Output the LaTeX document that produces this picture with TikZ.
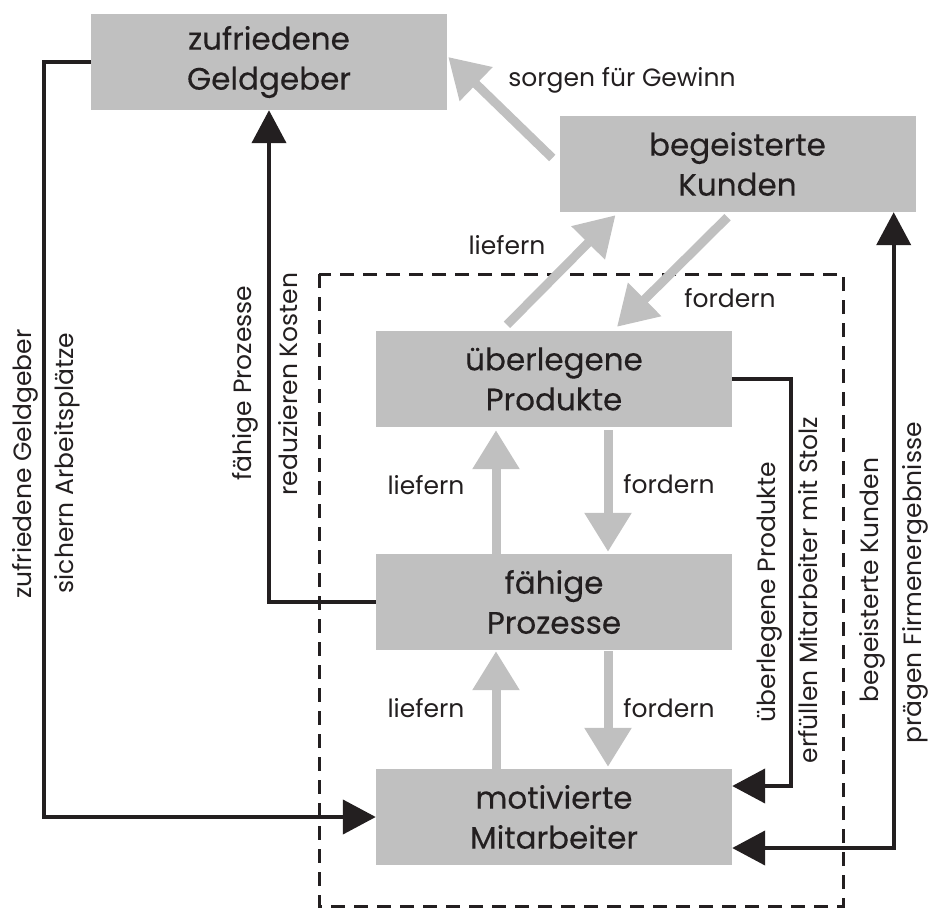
\documentclass[tikz,border=0pt]{standalone}
\usepackage{fontspec}
\setmainfont{Poppins}
\newfontfamily\boxfont[FakeBold=0.3]{Poppins}
\usetikzlibrary{arrows.meta}
\definecolor{ink}{HTML}{231F20}
\definecolor{boxgray}{HTML}{C0C0C0}
\begin{document}
\begin{tikzpicture}[x=1pt,y=-1pt,
  box/.style={fill=boxgray, minimum width=356pt, minimum height=96pt, inner sep=0pt,
    align=center, text=ink, font=\boxfont\fontsize{31}{40}\selectfont},
  lbl/.style={text=ink, inner sep=0pt, font=\fontsize{25}{30}\selectfont},
  blk/.style={draw=ink, line width=4.3pt},
  blktip/.style={-{Triangle[length=33pt,width=34pt]}},
  flow/.style={draw=boxgray, line width=9pt, -{Triangle[length=39pt,width=45pt]}},
  frame/.style={draw=ink, line width=3pt, dash pattern=on 14pt off 9pt}]
\useasboundingbox (0,0) rectangle (930,908);

% system boundary
\draw[frame] (319,274) rectangle (843,906);

% boxes
\node[box] (geld)   at (269,62)  {zufriedene\\Geldgeber};
\node[box] (kund)   at (737.5,164) {begeisterte\\Kunden};
\node[box] (prod)   at (554,379) {überlegene\\Produkte};
\node[box] (proz)   at (554,602) {fähige\\Prozesse};
\node[box] (mitarb) at (554,817) {motivierte\\Mitarbeiter};

% inner grey flows
\draw[flow] ([xshift=-7pt,yshift=6pt]kund.west) -- ([xshift=1pt,yshift=5pt]geld.east);
\draw[flow] ([xshift=-47pt,yshift=6pt]prod.north) -- ([xshift=-122pt,yshift=-3pt]kund.south);
\draw[flow] ([xshift=-10pt,yshift=-5pt]kund.south) -- ([xshift=63pt,yshift=4pt]prod.north);
\draw[flow] ([xshift=-58pt]proz.north) -- ([xshift=-58pt,yshift=-3pt]prod.south);
\draw[flow] ([xshift=54pt,yshift=-3pt]prod.south) -- ([xshift=54pt,yshift=2pt]proz.north);
\draw[flow] ([xshift=-58pt]mitarb.north) -- ([xshift=-58pt,yshift=-1pt]proz.south);
\draw[flow] ([xshift=54pt,yshift=-1pt]proz.south) -- ([xshift=54pt,yshift=2pt]mitarb.north);

% outer black loops
\draw[blk,blktip] (geld.west) -- ++(-47,0) |- (mitarb.west);
\draw[blk,blktip] (proz.west) -| (geld.south);
\draw[blk,blktip] (prod.east) -- ++(59,0) |- ([yshift=31pt]mitarb.east);
\draw[blk,{Triangle[length=33pt,width=34pt]}-{Triangle[length=33pt,width=34pt]}]
  ([yshift=-31pt]mitarb.east) -| ([xshift=-22pt]kund.south east);

% labels
\node[lbl] (lGew)  at (622,80)  {sorgen für Gewinn};
\node[lbl] (lLi1)  at (507,245) {liefern};
\node[lbl] (lFo1)  at (730,298) {fordern};
\node[lbl] (lLi2)  at (426,485) {liefern};
\node[lbl] (lFo2)  at (669,484) {fordern};
\node[lbl] (lLi3)  at (426,708) {liefern};
\node[lbl] (lFo3)  at (669,708) {fordern};
\node[lbl,rotate=90] (lA1) at (25,464)  {zufriedene Geldgeber};
\node[lbl,rotate=90] (lA2) at (67,463)  {sichern Arbeitsplätze};
\node[lbl,rotate=90] (lB1) at (245,383) {fähige Prozesse};
\node[lbl,rotate=90] (lB2) at (288,384) {reduzieren Kosten};
\node[lbl,rotate=90] (lC1) at (770,592) {überlegene Produkte};
\node[lbl,rotate=90] (lC2) at (808,590) {erfüllen Mitarbeiter mit Stolz};
\node[lbl,rotate=90] (lD1) at (872,580) {begeisterte Kunden};
\node[lbl,rotate=90] (lD2) at (915,583) {prägen Firmenergebnisse};
\end{tikzpicture}
\end{document}
